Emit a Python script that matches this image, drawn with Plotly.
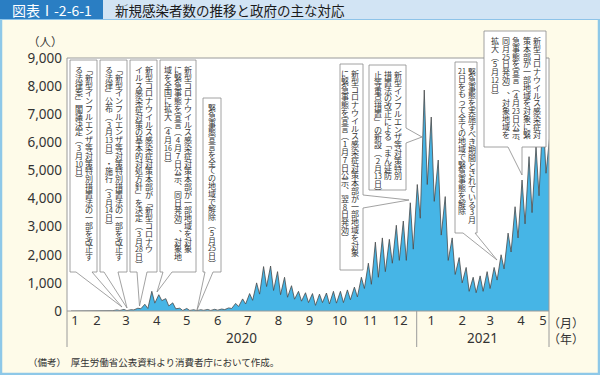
import plotly.graph_objects as go
import pandas as pd

# ---------------- data (weekly: Monday low, Friday high) ----------------
week_start = pd.date_range('2020-01-20', '2021-05-10', freq='W-MON')
weekly_low = [0, 1, 0, 1, 4, 8, 12, 20, 15, 40, 80,
              90, 280, 370, 180, 80, 20, 20, 15,
              25, 20, 30, 50, 90, 160, 250, 380, 600,
              870, 730, 580, 490, 420, 350, 300, 200, 300,
              250, 280, 300, 400, 500, 800, 950, 1200, 1400,
              1700, 1800, 1800, 2200,
              3300, 4500, 3900, 2700, 1800, 1300, 1000, 700,
              650, 700, 800, 1100, 1500, 2100, 2600, 3100, 3500,
              4100, 4900]
weekly_high = [1, 4, 3, 8, 15, 22, 40, 55, 45, 100, 240,
               700, 580, 440, 290, 100, 90, 45, 45,
               55, 60, 70, 110, 270, 430, 620, 1000, 1580,
               1600, 1400, 1200, 900, 700, 650, 620, 600, 640,
               700, 700, 750, 850, 1200, 1700, 2450, 2600, 2550,
               3050, 3200, 3850, 4500,
               7860, 6900, 5370, 4070, 2600, 1900, 1550, 1200,
               1250, 1400, 1550, 2000, 2770, 3710, 4660, 5490, 5850,
               7090, 6300]
month_labels = ['1', '2', '3', '4', '5', '6', '7', '8', '9', '10', '11', '12',
                '1', '2', '3', '4', '5']
month_label_dates = ['2020-01-24', '2020-02-15', '2020-03-15', '2020-04-15', '2020-05-15',
                     '2020-06-15', '2020-07-15', '2020-08-15', '2020-09-15', '2020-10-15',
                     '2020-11-15', '2020-12-15', '2021-01-15', '2021-02-15', '2021-03-15',
                     '2021-04-15', '2021-05-07']
y_ticks = [0, 1000, 2000, 3000, 4000, 5000, 6000, 7000, 8000, 9000]

xs, ys = [], []
for d, lo, hi in zip(week_start, weekly_low, weekly_high):
    xs += [d, d + pd.Timedelta(days=4)]
    ys += [lo, hi]

# ---------------- geometry helpers (pixel -> paper) ----------------
L, R, T, B = 67, 549, 58, 311
W, H = R - L, B - T
def px(x): return (x - L) / W
def py(y): return (B - y) / H

fig = go.Figure()
fig.add_trace(go.Scatter(x=xs, y=ys, mode='lines', fill='tozeroy',
                         fillcolor='#46B5E6', line=dict(color='#4a4a4a', width=0.8),
                         hoverinfo='skip', showlegend=False))

shapes = []
annotations = []

# title bar and borders
shapes.append(dict(type='rect', xref='paper', yref='paper', x0=px(0), x1=px(600), y0=py(0), y1=py(19),
                   fillcolor='#D2E4F4', line=dict(width=0), layer='above'))
shapes.append(dict(type='rect', xref='paper', yref='paper', x0=px(0), x1=px(103), y0=py(0), y1=py(19),
                   fillcolor='#2A7EC3', line=dict(width=0), layer='above'))
shapes.append(dict(type='line', xref='paper', yref='paper', x0=px(0), x1=px(600), y0=py(19.5), y1=py(19.5),
                   line=dict(color='#8EC3E8', width=1), layer='above'))
shapes.append(dict(type='path', xref='paper', yref='paper',
                   path=f"M {px(1)},{py(19)} L {px(1)},{py(374)} L {px(599)},{py(374)} L {px(599)},{py(19)}",
                   line=dict(color='#8EC8E8', width=2.5), layer='above'))

# plot frame and separators
frame_col = '#9a9a9a'
shapes.append(dict(type='rect', xref='paper', yref='paper', x0=0, x1=1, y0=0, y1=1,
                   line=dict(color=frame_col, width=1), layer='above'))
for X in [67, 416.7, 549]:
    shapes.append(dict(type='line', xref='paper', yref='paper', x0=px(X), x1=px(X), y0=py(311), y1=py(347),
                       line=dict(color=frame_col, width=1), layer='above'))

# ---------------- callout boxes with vertical text ----------------
boxes = [
    dict(cols=["「新型インフルエンザ等対策特別措置法の一部を改正す", "る法律案」閣議決定（3月10日）"],
         l=70, r=97, t=60, b=272, colx=[88.5, 78.5], tail=('b', 76, 92, 122, 307)),
    dict(cols=["「新型インフルエンザ等対策特別措置法の一部を改正す", "る法律」公布（3月13日）・施行（3月14日）"],
         l=100, r=127, t=60, b=272, colx=[118.5, 108.5], tail=('b', 104, 118, 127, 308)),
    dict(cols=["新型コロナウイルス感染症対策本部が「新型コロナウ", "イルス感染症対策の基本的対処方針」を決定（3月28日）"],
         l=130, r=157, t=60, b=272, colx=[148.5, 138.5], tail=('b', 137, 147, 139.5, 306)),
    dict(cols=["新型コロナウイルス感染症対策本部が一部地域を対象", "に緊急事態を宣言（4月7日公示、同日発効）、対象地",
               "域を全国に拡大（4月16日）"],
         l=160, r=196, t=60, b=272, colx=[188, 178, 168], tail=('b', 163, 172, 157, 292)),
    dict(cols=["緊急事態宣言を全ての地域で解除（5月25日）"],
         l=203, r=221, t=98, b=272, colx=[212], tail=('b', 205, 213, 197, 310)),
    dict(cols=["新型コロナウイルス感染症対策本部が一部地域を対象", "に緊急事態を宣言（1月7日公示、翌8日発効）"],
         l=340, r=363, t=64, b=270, colx=[355, 345], tail=('r', 195, 208, 409, 200)),
    dict(cols=["新型インフルエンザ等対策特別", "措置法の改正による「まん延防", "止等重点措置」の新設（2月13日）"],
         l=369, r=406, t=65, b=190, colx=[398, 388, 378], tail=('r', 128, 143, 422, 137)),
    dict(cols=["緊急事態を実施すべき期間とされている3月", "21日をもって全ての地域で緊急事態を解除"],
         l=455, r=477, t=62, b=233, colx=[471.5, 461.5], tail=('b', 463, 475, 497, 260)),
    dict(cols=["新型コロナウイルス感染症対", "策本部が一部地域を対象に緊", "急事態を宣言（4月23日公示、",
               "同月25日発効）、対象地域を", "拡大（5月12日）"],
         l=484, r=546, t=31, b=147, colx=[537, 526.5, 516, 505.5, 495], tail=('b', 508, 522, 522, 175)),
]

VMAP = {'ー': '︱', '「': '﹁', '」': '﹂', '（': '︵', '）': '︶', '、': '︑', '。': '︒'}
PITCH = 7.8          # vertical advance per character (px)
LINE_FS = PITCH / 1.3  # plotly line height is 1.3em of the annotation font size
GLYPH_FS = 8

def tokens(s):
    out, i = [], 0
    while i < len(s):
        c = s[i]
        if c.isascii() and c.isdigit():
            j = i
            while j < len(s) and s[j].isascii() and s[j].isdigit():
                j += 1
            out.append(s[i:j]); i = j
        else:
            out.append(c); i += 1
    return out

def vertical(s):
    parts = []
    for tok in tokens(s):
        size = 7 if len(tok) > 1 else GLYPH_FS
        parts.append(f'<span style="font-size:{size}px">{VMAP.get(tok, tok)}</span>')
    return '<br>'.join(parts)

box_line = dict(color='#8a8a8a', width=0.8)
for bx in boxes:
    l, r, t, b = bx['l'], bx['r'], bx['t'], bx['b']
    kind, a1, a2, tx, ty = bx['tail']
    if kind == 'b':
        pts = [(l, t), (r, t), (r, b), (a2, b), (tx, ty), (a1, b), (l, b)]
    else:
        pts = [(l, t), (r, t), (r, a1), (tx, ty), (r, a2), (r, b), (l, b)]
    path = 'M ' + ' L '.join(f'{px(x)},{py(y)}' for x, y in pts) + ' Z'
    shapes.append(dict(type='path', xref='paper', yref='paper', path=path,
                       fillcolor='white', line=box_line, layer='above'))
    for col, cx in zip(bx['cols'], bx['colx']):
        annotations.append(dict(xref='paper', yref='paper', x=px(cx), y=py(t + 3),
                                text=vertical(col), showarrow=False, align='center',
                                xanchor='center', yanchor='top', borderpad=0,
                                font=dict(size=LINE_FS, color='#333333', family='Noto Sans CJK JP')))

# ---------------- other texts ----------------
def txt(x, y, s, size, color='#333333', xanchor='center', family='Noto Sans CJK JP'):
    annotations.append(dict(xref='paper', yref='paper', x=px(x), y=py(y), text=s, showarrow=False,
                            xanchor=xanchor, yanchor='middle',
                            font=dict(size=size, color=color, family=family)))

txt(52, 10, '図表Ⅰ-2-6-1', 14, color='white')
txt(113, 10, '新規感染者数の推移と政府の主な対応', 13.5, color='#1a1a1a', xanchor='left')
txt(45, 41, '（人）', 11.5)
txt(241.7, 338, '2020', 13.5, family='Noto Sans')
txt(482.7, 338, '2021', 13.5, family='Noto Sans')
txt(566, 322, '（月）', 12)
txt(566, 338, '（年）', 12)
txt(26, 362, '（備考）　厚生労働省公表資料より消費者庁において作成。', 9.5, xanchor='left')

fig.update_layout(
    width=600, height=375,
    margin=dict(l=L, r=600 - R, t=T, b=375 - B, pad=0),
    paper_bgcolor='#FEFBE9', plot_bgcolor='white',
    showlegend=False,
    xaxis=dict(type='date', range=['2020-01-16', '2021-05-13'], tickvals=month_label_dates,
               ticktext=month_labels, ticks='', showgrid=False, zeroline=False, showline=False,
               tickfont=dict(size=13, color='#333333', family='Noto Sans'), fixedrange=True),
    yaxis=dict(range=[0, 9000], tickvals=y_ticks, ticktext=[f'{v:,}' for v in y_ticks],
               ticks='', showgrid=False, zeroline=False, showline=False, ticklabelstandoff=4,
               tickfont=dict(size=13.5, color='#333333', family='Noto Sans'), fixedrange=True),
    shapes=shapes, annotations=annotations,
)

fig.write_html('out.html', config={'displayModeBar': False},
               post_script="document.body.style.margin='0';document.body.style.overflow='hidden';")
